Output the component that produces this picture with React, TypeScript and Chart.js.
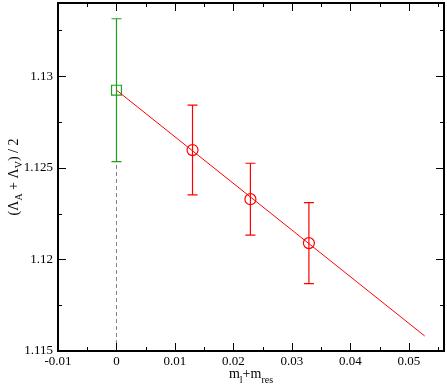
import React, { useEffect, useRef } from "react";
import { Chart, registerables } from "chart.js";

Chart.register(...registerables);

// ---- data ----
const latticeX = [0.013, 0.0229, 0.0329];
const latticeY = [1.12597, 1.12329, 1.12089];
const latticeErr = [0.00245, 0.00196, 0.00221];

const chiralX = [0];
const chiralY = [1.12924];
const chiralErr = [0.0039];

const fitX = [0, 0.0527];
const fitY = [1.12924, 1.11582];

const xMajorTicks = [-0.01, 0, 0.01, 0.02, 0.03, 0.04, 0.05];
const xMinorTicks = [-0.005, 0.005, 0.015, 0.025, 0.035, 0.045, 0.055];
const yMajorTicks = [1.115, 1.12, 1.125, 1.13];
const yMinorTicks = [1.1175, 1.1225, 1.1275, 1.1325];

const X_MIN = -0.01;
const X_MAX = 0.056;
const Y_MIN = 1.115;
const Y_MAX = 1.134;

const FONT = "'Liberation Serif', 'DejaVu Serif', serif";
const RED = "rgb(255,0,0)";
const GREEN = "rgb(30,160,30)";

const errorBarPlugin = {
  id: "errorBars",
  afterDatasetsDraw(chart: any) {
    const { ctx, scales } = chart;
    const xs = scales.x;
    const ys = scales.y;
    const draw = (xv: number[], yv: number[], ev: number[], color: string) => {
      ctx.save();
      ctx.strokeStyle = color;
      ctx.lineWidth = 1.2;
      for (let i = 0; i < xv.length; i++) {
        const px = xs.getPixelForValue(xv[i]);
        const top = ys.getPixelForValue(yv[i] + ev[i]);
        const bot = ys.getPixelForValue(yv[i] - ev[i]);
        ctx.beginPath();
        ctx.moveTo(px, top);
        ctx.lineTo(px, bot);
        ctx.moveTo(px - 5, top);
        ctx.lineTo(px + 5, top);
        ctx.moveTo(px - 5, bot);
        ctx.lineTo(px + 5, bot);
        ctx.stroke();
      }
      ctx.restore();
    };
    draw(chiralX, chiralY, chiralErr, GREEN);
    draw(latticeX, latticeY, latticeErr, RED);
  },
};

const framePlugin = {
  id: "frame",
  afterDraw(chart: any) {
    const { ctx, chartArea: a, scales } = chart;
    const xs = scales.x;
    const ys = scales.y;
    ctx.save();
    ctx.strokeStyle = "#000";
    ctx.lineWidth = 1;
    ctx.beginPath();
    const major = 8;
    const minor = 4;
    xMajorTicks.forEach((v) => {
      const p = Math.round(xs.getPixelForValue(v)) + 0.5;
      ctx.moveTo(p, a.bottom);
      ctx.lineTo(p, a.bottom - major);
      ctx.moveTo(p, a.top);
      ctx.lineTo(p, a.top + major);
    });
    xMinorTicks.forEach((v) => {
      const p = Math.round(xs.getPixelForValue(v)) + 0.5;
      ctx.moveTo(p, a.bottom);
      ctx.lineTo(p, a.bottom - minor);
      ctx.moveTo(p, a.top);
      ctx.lineTo(p, a.top + minor);
    });
    yMajorTicks.forEach((v) => {
      const p = Math.round(ys.getPixelForValue(v)) + 0.5;
      ctx.moveTo(a.left, p);
      ctx.lineTo(a.left + major, p);
      ctx.moveTo(a.right, p);
      ctx.lineTo(a.right - major, p);
    });
    yMinorTicks.forEach((v) => {
      const p = Math.round(ys.getPixelForValue(v)) + 0.5;
      ctx.moveTo(a.left, p);
      ctx.lineTo(a.left + minor, p);
      ctx.moveTo(a.right, p);
      ctx.lineTo(a.right - minor, p);
    });
    ctx.stroke();
    ctx.lineWidth = 2;
    ctx.strokeRect(a.left, a.top, a.right - a.left, a.bottom - a.top);

    // axis titles with subscripts
    ctx.fillStyle = "#000";
    ctx.textBaseline = "alphabetic";
    const parts: [string, boolean][] = [
      ["m", false],
      ["l", true],
      ["+m", false],
      ["res", true],
    ];
    const big = `14px ${FONT}`;
    const small = `10px ${FONT}`;
    let w = 0;
    parts.forEach(([t, sub]) => {
      ctx.font = sub ? small : big;
      w += ctx.measureText(t).width;
    });
    let x = (a.left + a.right) / 2 - w / 2;
    const yb = 378;
    parts.forEach(([t, sub]) => {
      ctx.font = sub ? small : big;
      ctx.fillText(t, x, sub ? yb + 5 : yb);
      x += ctx.measureText(t).width;
    });

    const yparts: [string, boolean][] = [
      ["(Λ", false],
      ["A", true],
      [" + Λ", false],
      ["V", true],
      [") / 2", false],
    ];
    let wy = 0;
    yparts.forEach(([t, sub]) => {
      ctx.font = sub ? small : big;
      wy += ctx.measureText(t).width;
    });
    ctx.translate(18, (a.top + a.bottom) / 2);
    ctx.rotate(-Math.PI / 2);
    let xx = -wy / 2;
    yparts.forEach(([t, sub]) => {
      ctx.font = sub ? small : big;
      ctx.fillText(t, xx, sub ? 4 : 0);
      xx += ctx.measureText(t).width;
    });
    ctx.restore();
  },
};

function fmt(v: number) {
  return String(Number(v.toFixed(4)));
}

export default function App() {
  const ref = useRef<HTMLCanvasElement | null>(null);
  useEffect(() => {
    document.body.style.margin = "0";
    if (!ref.current) return;
    const chart = new Chart(ref.current, {
      type: "scatter",
      data: {
        datasets: [
          {
            label: "x=0",
            type: "line",
            data: [
              { x: chiralX[0], y: Y_MIN },
              { x: chiralX[0], y: chiralY[0] },
            ],
            borderColor: "rgb(130,130,130)",
            borderWidth: 1,
            borderDash: [4, 3],
            pointRadius: 0,
            fill: false,
          },
          {
            label: "fit",
            type: "line",
            data: fitX.map((x, i) => ({ x, y: fitY[i] })),
            borderColor: RED,
            borderWidth: 1,
            pointRadius: 0,
            fill: false,
          },
          {
            label: "chiral",
            data: chiralX.map((x, i) => ({ x, y: chiralY[i] })),
            pointStyle: "rect",
            pointRadius: 7,
            borderColor: GREEN,
            backgroundColor: "rgba(0,0,0,0)",
            borderWidth: 1.2,
          },
          {
            label: "lattice",
            data: latticeX.map((x, i) => ({ x, y: latticeY[i] })),
            pointStyle: "circle",
            pointRadius: 5.5,
            borderColor: RED,
            backgroundColor: "rgba(0,0,0,0)",
            borderWidth: 1.2,
          },
        ],
      },
      options: {
        animation: false,
        responsive: false,
        layout: { autoPadding: false, padding: { top: 3, right: 3, left: 0, bottom: 0 } },
        plugins: {
          legend: { display: false },
          title: { display: false },
          tooltip: { enabled: false },
        },
        scales: {
          x: {
            type: "linear",
            min: X_MIN,
            max: X_MAX,
            grid: { display: false, drawTicks: false },
            border: { display: false },
            ticks: {
              stepSize: 0.01,
              includeBounds: false,
              autoSkip: false,
              maxRotation: 0,
              padding: 3,
              color: "#000",
              font: { family: FONT, size: 13 },
              callback: (v: any) => fmt(Number(v)),
            },
            afterFit: (s: any) => {
              s.height = 37;
              s.paddingLeft = 0;
              s.paddingRight = 0;
              s.paddingTop = 0;
              s.paddingBottom = 0;
            },
          },
          y: {
            type: "linear",
            min: Y_MIN,
            max: Y_MAX,
            grid: { display: false, drawTicks: false },
            border: { display: false },
            ticks: {
              stepSize: 0.005,
              includeBounds: false,
              autoSkip: false,
              padding: 5,
              color: "#000",
              font: { family: FONT, size: 13 },
              callback: (v: any) => fmt(Number(v)),
            },
            afterFit: (s: any) => {
              s.width = 58;
              s.paddingLeft = 0;
              s.paddingRight = 0;
              s.paddingTop = 0;
              s.paddingBottom = 0;
            },
          },
        },
      },
      plugins: [errorBarPlugin, framePlugin],
    } as any);
    return () => chart.destroy();
  }, []);
  return (
    <div style={{ width: 447, height: 388 }}>
      <canvas ref={ref} width={447} height={388} style={{ display: "block" }} />
    </div>
  );
}
